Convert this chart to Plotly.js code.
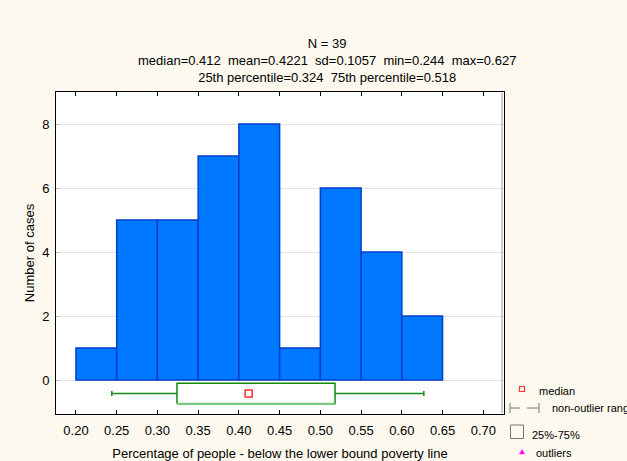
<!DOCTYPE html>
<html>
<head>
<meta charset="utf-8">
<script src="https://cdn.plot.ly/plotly-3.0.1.min.js"></script>
<style>html,body{margin:0;padding:0;background:#fdf9ee;}#chart{width:627px;height:461px;}</style>
</head>
<body>
<div id="chart"></div>
<script>
// ---- data ----
const binStarts = [0.20, 0.25, 0.30, 0.35, 0.40, 0.45, 0.50, 0.55, 0.60];
const counts = [1, 5, 5, 7, 8, 1, 6, 4, 2];
const binWidth = 0.05;
const xTickVals = [0.20, 0.25, 0.30, 0.35, 0.40, 0.45, 0.50, 0.55, 0.60, 0.65, 0.70];
const xTickText = ["0.20", "0.25", "0.30", "0.35", "0.40", "0.45", "0.50", "0.55", "0.60", "0.65", "0.70"];
const yTickVals = [0, 2, 4, 6, 8];
const n = 39;
const median = 0.412, mean = 0.4221, sd = 0.1057, minV = 0.244, maxV = 0.627;
const q1 = 0.324, q3 = 0.518;
const legendLabels = ["median", "non-outlier range", "25%-75%", "outliers"];

// ---- layout constants ----
const W = 627, H = 461;
const M = {l: 56, r: 123, t: 92, b: 47};
const boxLo = -0.74, boxHi = -0.10, whiskY = -0.42, capH = 0.08;
const FONT = "Liberation Sans, Arial, sans-serif";
const green = "#138a13", lightGreen = "#7cc87c";

const pw = W - M.l - M.r, ph = H - M.t - M.b;
const px = x => (x - M.l) / pw;
const py = y => (H - M.b - y) / ph;

const traces = [];
traces.push({
  type: "bar", x: binStarts, y: counts, width: binWidth, offset: 0,
  marker: {color: "#0078ff", line: {color: "#0040c8", width: 1.5}},
  hoverinfo: "x+y", showlegend: false
});
// whiskers
const wl = {color: green, width: 1.5};
traces.push({type: "scatter", mode: "lines", x: [minV, q1], y: [whiskY, whiskY], line: wl, showlegend: false, hoverinfo: "skip"});
traces.push({type: "scatter", mode: "lines", x: [q3, maxV], y: [whiskY, whiskY], line: wl, showlegend: false, hoverinfo: "skip"});
traces.push({type: "scatter", mode: "lines", x: [minV, minV], y: [whiskY - capH, whiskY + capH], line: wl, showlegend: false, hoverinfo: "skip"});
traces.push({type: "scatter", mode: "lines", x: [maxV, maxV], y: [whiskY - capH, whiskY + capH], line: wl, showlegend: false, hoverinfo: "skip"});
// box
traces.push({type: "scatter", mode: "lines", x: [q1, q1, q3, q3, q1], y: [boxLo, boxHi, boxHi, boxLo, boxLo], fill: "toself", fillcolor: "#ffffff", line: {color: green, width: 1.5}, showlegend: false, hoverinfo: "skip"});
traces.push({type: "scatter", mode: "lines", x: [q1, q3], y: [boxLo, boxLo], line: {color: lightGreen, width: 2}, showlegend: false, hoverinfo: "skip"});
// median marker
traces.push({type: "scatter", mode: "markers", x: [median], y: [whiskY], marker: {symbol: "square-open", size: 7, color: "#ff3030", line: {width: 1.5}}, showlegend: false, hoverinfo: "x"});

const sp = "\u00a0\u00a0";
const titleText = "N = " + n + "<br>" +
  "median=" + median + sp + "mean=" + mean + sp + "sd=" + sd + sp + "min=" + minV + sp + "max=" + maxV + "<br>" +
  "25th percentile=" + q1 + sp + "75th percentile=" + q3;

const LF = {family: FONT, size: 11, color: "#000"};
const annotations = [
  {xref: "paper", yref: "paper", x: px(327), y: py(60), xanchor: "center", yanchor: "middle", text: titleText, showarrow: false, font: {family: FONT, size: 13, color: "#000"}},
  {xref: "paper", yref: "paper", x: px(537), y: py(391), xanchor: "left", yanchor: "middle", text: legendLabels[0], showarrow: false, font: LF},
  {xref: "paper", yref: "paper", x: px(550), y: py(408), xanchor: "left", yanchor: "middle", text: legendLabels[1], showarrow: false, font: LF},
  {xref: "paper", yref: "paper", x: px(530), y: py(435), xanchor: "left", yanchor: "middle", text: legendLabels[2], showarrow: false, font: LF},
  {xref: "paper", yref: "paper", x: px(534), y: py(453), xanchor: "left", yanchor: "middle", text: legendLabels[3], showarrow: false, font: LF}
];

const shapes = [
  // border shadow
  {type: "line", xref: "paper", yref: "paper", x0: px(502), x1: px(502), y0: py(93), y1: py(413), line: {color: "#999", width: 1}},
  // legend: median square
  {type: "rect", xref: "paper", yref: "paper", x0: px(519.5), x1: px(524.5), y0: py(386.5), y1: py(391.5), line: {color: "#ff3030", width: 1.2}},
  // legend: whisker symbol
  {type: "line", xref: "paper", yref: "paper", x0: px(510), x1: px(520), y0: py(408), y1: py(408), line: {color: "#777", width: 1}},
  {type: "line", xref: "paper", yref: "paper", x0: px(527), x1: px(539), y0: py(408), y1: py(408), line: {color: "#777", width: 1}},
  {type: "line", xref: "paper", yref: "paper", x0: px(510), x1: px(510), y0: py(403), y1: py(413), line: {color: "#777", width: 1}},
  {type: "line", xref: "paper", yref: "paper", x0: px(539), x1: px(539), y0: py(403), y1: py(413), line: {color: "#777", width: 1}},
  // legend: box
  {type: "rect", xref: "paper", yref: "paper", x0: px(510.5), x1: px(523.5), y0: py(425), y1: py(438.5), line: {color: "#777", width: 1}},
  // legend: outlier triangle
  {type: "path", xref: "paper", yref: "paper", path: "M " + px(519.5) + " " + py(454) + " L " + px(524.5) + " " + py(454) + " L " + px(522) + " " + py(449.5) + " Z", fillcolor: "#ff00ff", line: {color: "#ff00ff", width: 0.5}}
];

const layout = {
  width: W, height: H,
  margin: M,
  paper_bgcolor: "#fdf9ee", plot_bgcolor: "#ffffff",
  font: {family: FONT, size: 13, color: "#000"},
  bargap: 0,
  showlegend: false,
  xaxis: {
    range: [0.1755, 0.7254], tickvals: xTickVals, ticktext: xTickText,
    showgrid: false, zeroline: false, showline: true, linecolor: "#000", linewidth: 1, mirror: "ticks",
    ticks: "inside", ticklen: 4, tickcolor: "#000", ticklabelstandoff: 4,
    tickfont: {family: FONT, size: 13},
    title: {text: "Percentage of people - below the lower bound poverty line", font: {family: FONT, size: 13}, standoff: 12}
  },
  yaxis: {
    range: [-1.06, 9], tickvals: yTickVals,
    showgrid: true, gridcolor: "#e2e2e2", zeroline: false, showline: true, linecolor: "#000", linewidth: 1, mirror: true,
    ticks: "inside", ticklen: 3, tickcolor: "#bbb", ticklabelstandoff: 3,
    tickfont: {family: FONT, size: 13},
    title: {text: "Number of cases", font: {family: FONT, size: 13}, standoff: 4}
  },
  annotations: annotations,
  shapes: shapes
};

Plotly.newPlot("chart", traces, layout, {displayModeBar: false, staticPlot: true});
</script>
</body>
</html>
